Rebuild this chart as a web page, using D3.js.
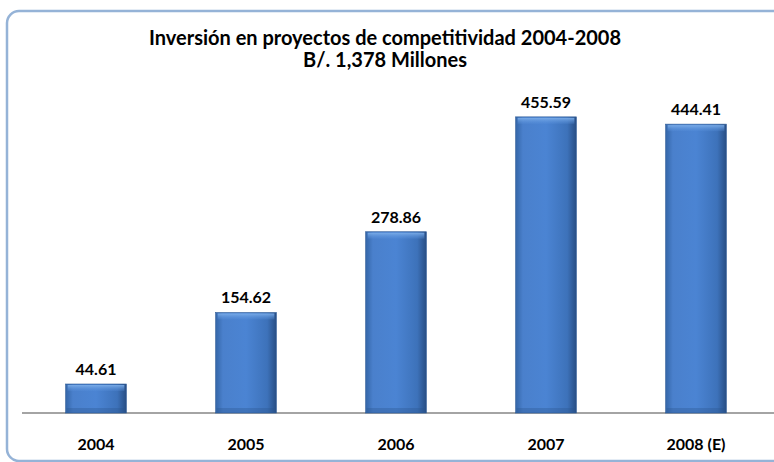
<!DOCTYPE html>
<html lang="es">
  <head>
    <meta charset="utf-8" />
    <title>Inversión en proyectos de competitividad</title>
    <script src="https://d3js.org/d3.v7.min.js"></script>
    <style>
      body { margin: 0; background: #fff; }
      svg text { font-family: Lato, "Open Sans", sans-serif; font-weight: bold; fill: #000; }
    </style>
  </head>
  <body>
    <svg id="chart" width="774" height="462"></svg>

    <script>
      const years = ["2004", "2005", "2006", "2007", "2008 (E)"];
      const values = [44.61, 154.62, 278.86, 455.59, 444.41];
      const titleLines = ["Inversión en proyectos de competitividad 2004-2008", "B/. 1,378 Millones"];

      const svg = d3.select("#chart"),
        width = +svg.attr("width"),
        height = +svg.attr("height");

      // gradients for the bevelled bars
      const defs = svg.append("defs");
      const hg = defs.append("linearGradient").attr("id", "barH")
        .attr("x1", 0).attr("x2", 1).attr("y1", 0).attr("y2", 0);
      hg.append("stop").attr("offset", "0%").attr("stop-color", "#3466a8");
      hg.append("stop").attr("offset", "12%").attr("stop-color", "#4a80cc");
      hg.append("stop").attr("offset", "50%").attr("stop-color", "#4b84d3");
      hg.append("stop").attr("offset", "85%").attr("stop-color", "#3d72ba");
      hg.append("stop").attr("offset", "100%").attr("stop-color", "#284e84");

      const vg = defs.append("linearGradient").attr("id", "barV")
        .attr("x1", 0).attr("x2", 0).attr("y1", 0).attr("y2", 1);
      vg.append("stop").attr("offset", "0%").attr("stop-color", "#7fb0ea").attr("stop-opacity", 0.9);
      vg.append("stop").attr("offset", "100%").attr("stop-color", "#5a92dc").attr("stop-opacity", 0.2);

      // chart frame
      svg.append("rect")
        .attr("x", 7).attr("y", 11)
        .attr("width", 790).attr("height", 450)
        .attr("rx", 12).attr("ry", 12)
        .attr("fill", "none")
        .attr("stroke", "#95b3d7")
        .attr("stroke-width", 2.5);

      // title
      svg.append("text")
        .attr("text-anchor", "middle")
        .style("font-size", "20px")
        .selectAll("tspan")
        .data(titleLines)
        .join("tspan")
        .attr("x", 385)
        .attr("y", (d, i) => 45 + i * 22)
        .text(d => d);

      const x = d3.scaleBand()
        .domain(years)
        .range([21, 771])
        .paddingInner(0.595)
        .paddingOuter(0.2975);

      const y = d3.scaleLinear()
        .domain([0, 500])
        .range([413, 88]);

      // baseline
      svg.append("line")
        .attr("x1", 22).attr("x2", width)
        .attr("y1", y(0)).attr("y2", y(0))
        .attr("stroke", "#868686")
        .attr("stroke-width", 1.3);

      const bars = svg.append("g").selectAll("g")
        .data(values)
        .join("g")
        .attr("transform", (d, i) => `translate(${x(years[i])},0)`);

      bars.append("rect")
        .attr("x", 0)
        .attr("y", d => y(d))
        .attr("width", x.bandwidth())
        .attr("height", d => y(0) - y(d))
        .attr("fill", "url(#barH)")
        .attr("stroke", "#2d5a96")
        .attr("stroke-width", 0.6);

      // top bevel highlight
      bars.append("rect")
        .attr("x", 2)
        .attr("y", d => y(d) + 1)
        .attr("width", x.bandwidth() - 4)
        .attr("height", 6)
        .attr("fill", "url(#barV)");

      // bottom darker bevel
      bars.append("rect")
        .attr("x", 1)
        .attr("y", y(0) - 5)
        .attr("width", x.bandwidth() - 2)
        .attr("height", 5)
        .attr("fill", "#2b5590")
        .attr("opacity", 0.35);

      // value labels
      bars.append("text")
        .attr("x", x.bandwidth() / 2)
        .attr("y", d => y(d) - 9)
        .attr("text-anchor", "middle")
        .style("font-size", "16px")
        .text(d => d.toFixed(2));

      // category labels
      svg.append("g").selectAll("text")
        .data(years)
        .join("text")
        .attr("x", d => x(d) + x.bandwidth() / 2)
        .attr("y", 450)
        .attr("text-anchor", "middle")
        .style("font-size", "16px")
        .text(d => d);
    </script>
  </body>
</html>
